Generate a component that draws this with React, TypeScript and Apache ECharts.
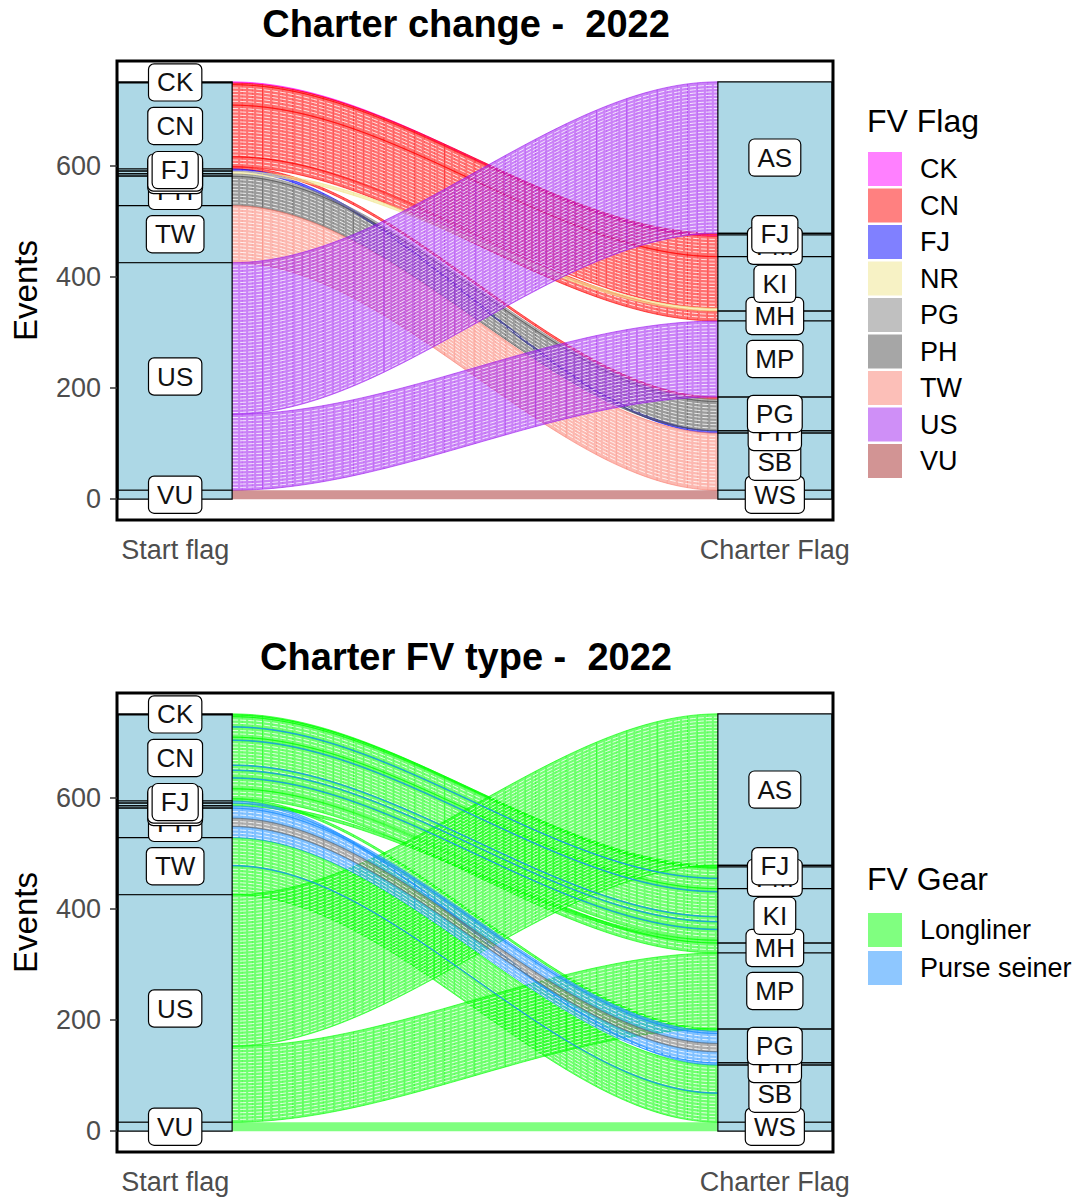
import React, { useEffect, useRef } from 'react';
import * as echarts from 'echarts';

// ---------------- data ----------------
const startFlags = ['CK', 'CN', 'FJ', 'NR', 'PG', 'PH', 'TW', 'US', 'VU'];
const charterFlags = ['AS', 'FJ', 'FM', 'KI', 'MH', 'MP', 'PG', 'PH', 'SB', 'WS'];
const axisNames = ['Start flag', 'Charter Flag'];
const yTicks = [0, 200, 400, 600];

// one entry per flow (start flag -> charter flag)
const flowFrom = ['CK', 'CN', 'CN', 'CN', 'CN', 'CN', 'FJ', 'NR', 'PG', 'PH', 'TW', 'US', 'US', 'VU'];
const flowTo = ['FM', 'FJ', 'FM', 'KI', 'MH', 'PG', 'PH', 'KI', 'PG', 'PG', 'SB', 'AS', 'MP', 'WS'];
const flowEvents = [2, 3, 37, 93, 18, 4, 4, 5, 4, 53, 103, 273, 137, 16];

// gear of the events inside each flow, in stacking order (top to bottom)
const gearRuns: [string, number][][] = [
  [['Longliner', 2]],
  [['Longliner', 3]],
  [['Longliner', 18], ['Purse seiner', 1], ['Longliner', 18]],
  [['Longliner', 5], ['Purse seiner', 1], ['Longliner', 44], ['Purse seiner', 1], ['Longliner', 8], ['Purse seiner', 1], ['Longliner', 13], ['Purse seiner', 1], ['Longliner', 19]],
  [['Longliner', 18]],
  [['Longliner', 4]],
  [['Purse seiner', 4]],
  [['Longliner', 5]],
  [['Purse seiner', 4]],
  [['Purse seiner', 18], ['NA', 15], ['Purse seiner', 20]],
  [['Longliner', 50], ['Purse seiner', 1], ['Longliner', 52]],
  [['Longliner', 273]],
  [['Longliner', 137]],
  [['Longliner', 16]],
];

const flagColors = ['#FF00FF', '#FF0000', '#0000FF', '#F0E68C', '#808080', '#4D4D4D', '#FA8072', '#A020F0', '#A52A2A'];
const flagLegendColors = ['#FF80FF', '#FF8080', '#8080FF', '#F7F2C5', '#C0C0C0', '#A6A6A6', '#FCBFB8', '#CF8FF7', '#D29494'];
const gearNames = ['Longliner', 'Purse seiner'];
const gearColors = ['#00FF00', '#1E90FF'];
const gearLegendColors = ['#80FF80', '#8EC7FF'];
const naGearColor = '#6E6E6E';

const FONT = "'Liberation Sans', Arial, Helvetica, sans-serif";
const HW = 0.095;
const X_MIN = 0.903;
const X_MAX = 2.097;
const Y_MIN = -37.6;
const Y_MAX = 789.6;
const STRIPE = 6;
const VSTEPS = 48;

function rgba(hex: string, a: number) {
  const n = parseInt(hex.slice(1), 16);
  return `rgba(${(n >> 16) & 255},${(n >> 8) & 255},${n & 255},${a})`;
}

function buildLayout(runs: [string, number][][]) {
  const total = flowEvents.reduce((a, b) => a + b, 0);
  const srcTotals = startFlags.map((f) => flowEvents.reduce((s, v, i) => s + (flowFrom[i] === f ? v : 0), 0));
  const dstTotals = charterFlags.map((f) => flowEvents.reduce((s, v, i) => s + (flowTo[i] === f ? v : 0), 0));
  const leftCursor: Record<string, number> = {};
  const rightCursor: Record<string, number> = {};
  const leftStrata: number[][] = [];
  const rightStrata: number[][] = [];
  let acc = total;
  startFlags.forEach((f, k) => {
    leftCursor[f] = acc;
    leftStrata.push([1, acc, acc - srcTotals[k]]);
    acc -= srcTotals[k];
  });
  acc = total;
  charterFlags.forEach((f, k) => {
    rightCursor[f] = acc;
    rightStrata.push([2, acc, acc - dstTotals[k]]);
    acc -= dstTotals[k];
  });
  const idx = flowEvents.map((_, i) => i);
  const sI = (f: string) => startFlags.indexOf(f);
  const cI = (f: string) => charterFlags.indexOf(f);
  const leftTop: number[] = [];
  const rightTop: number[] = [];
  [...idx]
    .sort((a, b) => sI(flowFrom[a]) - sI(flowFrom[b]) || cI(flowTo[a]) - cI(flowTo[b]))
    .forEach((i) => {
      leftTop[i] = leftCursor[flowFrom[i]];
      leftCursor[flowFrom[i]] -= flowEvents[i];
    });
  [...idx]
    .sort((a, b) => cI(flowTo[a]) - cI(flowTo[b]) || sI(flowFrom[a]) - sI(flowFrom[b]))
    .forEach((i) => {
      rightTop[i] = rightCursor[flowTo[i]];
      rightCursor[flowTo[i]] -= flowEvents[i];
    });
  const bands: { key: string; v: number[] }[] = [];
  idx.forEach((i) => {
    let off = 0;
    runs[i].forEach(([key, n]) => {
      bands.push({ key, v: [1.5, leftTop[i] - off, leftTop[i] - off - n, rightTop[i] - off, rightTop[i] - off - n] });
      off += n;
    });
  });
  return { bands, leftStrata, rightStrata };
}

const renderFlow = (base: string) => (params: any, api: any) => {
  const yTL = api.value(1) as number;
  const yBL = api.value(2) as number;
  const yTR = api.value(3) as number;
  const yBR = api.value(4) as number;
  const x0 = 1 + HW;
  const x1 = 2 - HW;
  const flat = Math.abs(yTL - yTR) < 1e-9;
  const N = 60;
  const at = (t: number, yl: number, yr: number) => {
    const s = t * t * (3 - 2 * t);
    return api.coord([x0 + (x1 - x0) * t, yl + (yr - yl) * s]);
  };
  const edge = (yl: number, yr: number) => {
    const pts: number[][] = [];
    for (let i = 0; i <= N; i++) pts.push(at(i / N, yl, yr));
    return pts;
  };
  const top = edge(yTL, yTR);
  const bot = edge(yBL, yBR);
  const children: any[] = [
    {
      type: 'polygon',
      shape: { points: top.concat(bot.slice().reverse()) },
      style: { fill: rgba(base, flat ? 0.5 : 0.56), stroke: flat ? 'none' : rgba(base, 0.7), lineWidth: flat ? 0 : 0.9 },
    },
  ];
  if (!flat) {
    const n = yTL - yBL;
    for (let j = 1; j < VSTEPS; j++) {
      const t = j / VSTEPS;
      const a = at(t, yTL, yTR);
      const b = at(t, yBL, yBR);
      children.push({
        type: 'line',
        shape: { x1: a[0], y1: a[1], x2: b[0], y2: b[1] },
        style: { stroke: rgba(base, j % 3 === 0 ? 0.5 : 0.25), lineWidth: 1 },
      });
    }
    for (let k = STRIPE; k < n - 1; k += STRIPE) {
      children.push({
        type: 'polyline',
        shape: { points: edge(yTL - k, yTR - k) },
        style: { stroke: 'rgba(255,255,255,0.8)', lineWidth: 1, fill: 'none', lineDash: [6, 2] },
      });
    }
  }
  return { type: 'group', children };
};

const renderStratum = (params: any, api: any) => {
  const ax = api.value(0) as number;
  const p0 = api.coord([ax - HW, api.value(1)]);
  const p1 = api.coord([ax + HW, api.value(2)]);
  return {
    type: 'rect',
    shape: { x: p0[0], y: p0[1], width: p1[0] - p0[0], height: p1[1] - p0[1] },
    style: { fill: '#ADD8E6', stroke: '#000', lineWidth: 1.2 },
  };
};

const renderLabel = (names: string[]) => (params: any, api: any) => {
  const p = api.coord([api.value(0), api.value(1)]);
  return {
    type: 'text',
    x: p[0],
    y: p[1],
    style: {
      text: names[params.dataIndex],
      fontSize: 26,
      fontFamily: FONT,
      fill: '#111',
      align: 'center',
      verticalAlign: 'middle',
      backgroundColor: '#fff',
      borderColor: '#000',
      borderWidth: 1.2,
      borderRadius: 5,
      padding: [4, 8],
      lineHeight: 28,
    },
  };
};

function panelSeries(gi: number, layout: ReturnType<typeof buildLayout>, keys: string[], colors: string[], legendColors: string[]) {
  const series: any[] = [];
  keys.forEach((key, k) => {
    series.push({
      type: 'custom',
      name: key,
      xAxisIndex: gi,
      yAxisIndex: gi,
      z: 2,
      silent: true,
      itemStyle: { color: legendColors[k] },
      renderItem: renderFlow(colors[k]),
      data: layout.bands.filter((b) => b.key === key).map((b) => b.v),
    });
  });
  const strata = [...layout.leftStrata, ...layout.rightStrata];
  const names = [...startFlags, ...charterFlags];
  series.push({
    type: 'custom',
    name: 'strata' + gi,
    xAxisIndex: gi,
    yAxisIndex: gi,
    z: 3,
    silent: true,
    renderItem: renderStratum,
    data: strata,
  });
  const order = strata.map((_, i) => i).reverse();
  const labelNames = order.map((i) => names[i]);
  series.push({
    type: 'custom',
    name: 'labels' + gi,
    xAxisIndex: gi,
    yAxisIndex: gi,
    z: 4,
    silent: true,
    renderItem: renderLabel(labelNames),
    data: order.map((i) => [strata[i][0], (strata[i][1] + strata[i][2]) / 2]),
  });
  return series;
}

function axes(gi: number) {
  const x = {
    gridIndex: gi,
    type: 'value',
    min: X_MIN,
    max: X_MAX,
    axisLine: { show: false },
    splitLine: { show: false },
    axisTick: { show: true, customValues: [1, 2], length: 7, lineStyle: { color: '#333', width: 1.5 } },
    axisLabel: {
      customValues: [1, 2],
      formatter: (v: number) => axisNames[Math.round(v) - 1],
      fontSize: 27,
      color: '#4D4D4D',
      fontFamily: FONT,
      margin: 16,
    },
  };
  const y = {
    gridIndex: gi,
    type: 'value',
    min: Y_MIN,
    max: Y_MAX,
    axisLine: { show: false },
    splitLine: { show: false },
    axisTick: { show: true, customValues: yTicks, length: 7, lineStyle: { color: '#333', width: 1.5 } },
    axisLabel: { customValues: yTicks, fontSize: 27, color: '#4D4D4D', fontFamily: FONT, margin: 16 },
    name: 'Events',
    nameLocation: 'middle',
    nameGap: 75,
    nameTextStyle: { fontSize: 33, color: '#000', fontFamily: FONT },
  };
  return { x, y };
}

export default function App() {
  const ref = useRef<HTMLDivElement>(null);
  useEffect(() => {
    if (!ref.current) return;
    const chart = echarts.init(ref.current, undefined, { renderer: 'svg' });
    const topLayout = buildLayout(flowFrom.map((f, i) => [[f, flowEvents[i]]] as [string, number][]));
    const botLayout = buildLayout(gearRuns);
    const a0 = axes(0);
    const a1 = axes(1);
    const option: any = {
      animation: false,
      backgroundColor: '#fff',
      title: [
        { text: 'Charter change -  2022', left: 466, top: 5, textAlign: 'center', padding: 0, textStyle: { fontSize: 38, fontWeight: 'bold', color: '#000', fontFamily: FONT } },
        { text: 'FV Flag', left: 867, top: 105, padding: 0, textStyle: { fontSize: 32, fontWeight: 'normal', color: '#000', fontFamily: FONT } },
        { text: 'Charter FV type -  2022', left: 466, top: 638, textAlign: 'center', padding: 0, textStyle: { fontSize: 38, fontWeight: 'bold', color: '#000', fontFamily: FONT } },
        { text: 'FV Gear', left: 867, top: 863, padding: 0, textStyle: { fontSize: 32, fontWeight: 'normal', color: '#000', fontFamily: FONT } },
      ],
      legend: [
        {
          data: startFlags,
          orient: 'vertical',
          left: 868,
          top: 152,
          itemWidth: 34,
          itemHeight: 34,
          itemGap: 2.5,
          icon: 'rect',
          selectedMode: false,
          padding: 0,
          textStyle: { fontSize: 27, color: '#000', fontFamily: FONT, padding: [0, 0, 0, 13] },
        },
        {
          data: gearNames,
          orient: 'vertical',
          left: 868,
          top: 913,
          itemWidth: 34,
          itemHeight: 34,
          itemGap: 4,
          icon: 'rect',
          selectedMode: false,
          padding: 0,
          textStyle: { fontSize: 27, color: '#000', fontFamily: FONT, padding: [0, 0, 0, 13] },
        },
      ],
      grid: [
        { left: 117, top: 61, width: 716, height: 459, show: true, borderColor: '#000', borderWidth: 3, backgroundColor: '#fff' },
        { left: 117, top: 693, width: 716, height: 459, show: true, borderColor: '#000', borderWidth: 3, backgroundColor: '#fff' },
      ],
      xAxis: [a0.x, a1.x],
      yAxis: [a0.y, a1.y],
      series: [
        ...panelSeries(0, topLayout, startFlags, flagColors, flagLegendColors),
        ...panelSeries(1, botLayout, [...gearNames, 'NA'], [...gearColors, naGearColor], [...gearLegendColors, '#BEBEBE']),
      ],
    };
    chart.setOption(option);
    return () => chart.dispose();
  }, []);
  return <div ref={ref} style={{ position: 'absolute', left: 0, top: 0, width: 1086, height: 1200 }} />;
}
